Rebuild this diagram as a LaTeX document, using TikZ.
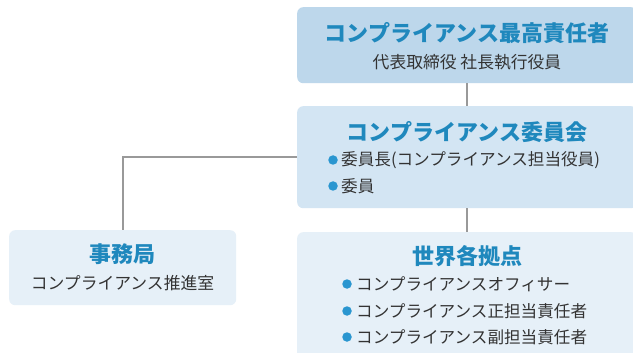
\documentclass[tikz,border=0pt]{standalone}
\usepackage{fontspec}
\setmainfont{Noto Sans CJK JP}
\definecolor{boxA}{HTML}{BDD7EB}
\definecolor{boxB}{HTML}{D3E5F3}
\definecolor{boxC}{HTML}{E6F0F8}
\definecolor{titleblue}{HTML}{1F88BD}
\definecolor{textgray}{HTML}{333333}
\definecolor{dotblue}{HTML}{2A96D0}
\definecolor{linegray}{HTML}{999999}
\begin{document}
\begin{tikzpicture}[x=1pt,y=-1pt,
  box/.style={rounded corners=6pt, inner sep=0pt, anchor=north west},
  ttl/.style={font=\bfseries\fontsize{22}{26}\selectfont, text=titleblue, inner sep=0pt, anchor=center},
  sub/.style={font=\fontsize{16.8}{20}\selectfont, text=textgray, inner sep=0pt},
  bul/.style={font=\fontsize{16.6}{20}\selectfont, text=textgray, inner sep=0pt, anchor=west},
  bdot/.style={circle, fill=dotblue, inner sep=0pt, minimum size=9.5pt},
  link/.style={draw=linegray, line width=2pt}]
\useasboundingbox (0,0) rectangle (633,353);
\fill[white] (0,0) rectangle (633,353);
\begin{scope}
\clip (0,0) rectangle (633,353);
\node[box, fill=boxA, minimum width=340pt, minimum height=76pt] (top) at (297,7) {};
\node[box, fill=boxB, minimum width=340pt, minimum height=102pt] (cmt) at (297,106) {};
\node[box, fill=boxC, minimum width=227pt, minimum height=75pt] (ofc) at (9,230) {};
\node[box, fill=boxC, minimum width=340pt, minimum height=138pt] (glb) at (297,232) {};
\end{scope}
% connectors
\draw[link] (top.south) -- (cmt.north);
\draw[link] (cmt.south) -- (glb.north);
\draw[link] (cmt.west) -| (ofc.north);
% box 1
\node[ttl] (t1) at (467,33) {コンプライアンス最高責任者};
\node[sub] (s1) at (467,62) {代表取締役 社長執行役員};
% box 2
\node[ttl] (t2) at (467,132) {コンプライアンス委員会};
\node[bdot] (d21) at (333,160) {};
\node[bul] (b21) at (341,160) {委員長(コンプライアンス担当役員)};
\node[bdot] (d22) at (333,186) {};
\node[bul] (b22) at (341,186) {委員};
% box 3
\node[ttl] (t3) at (122.5,254) {事務局};
\node[sub] (s3) at (122.5,283) {コンプライアンス推進室};
% box 4
\node[ttl] (t4) at (467,256) {世界各拠点};
\node[bdot] (d41) at (347,284) {};
\node[bul] (b41) at (356,284) {コンプライアンスオフィサー};
\node[bdot] (d42) at (347,311) {};
\node[bul] (b42) at (356,311) {コンプライアンス正担当責任者};
\node[bdot] (d43) at (347,337) {};
\node[bul] (b43) at (356,337) {コンプライアンス副担当責任者};
\end{tikzpicture}
\end{document}
